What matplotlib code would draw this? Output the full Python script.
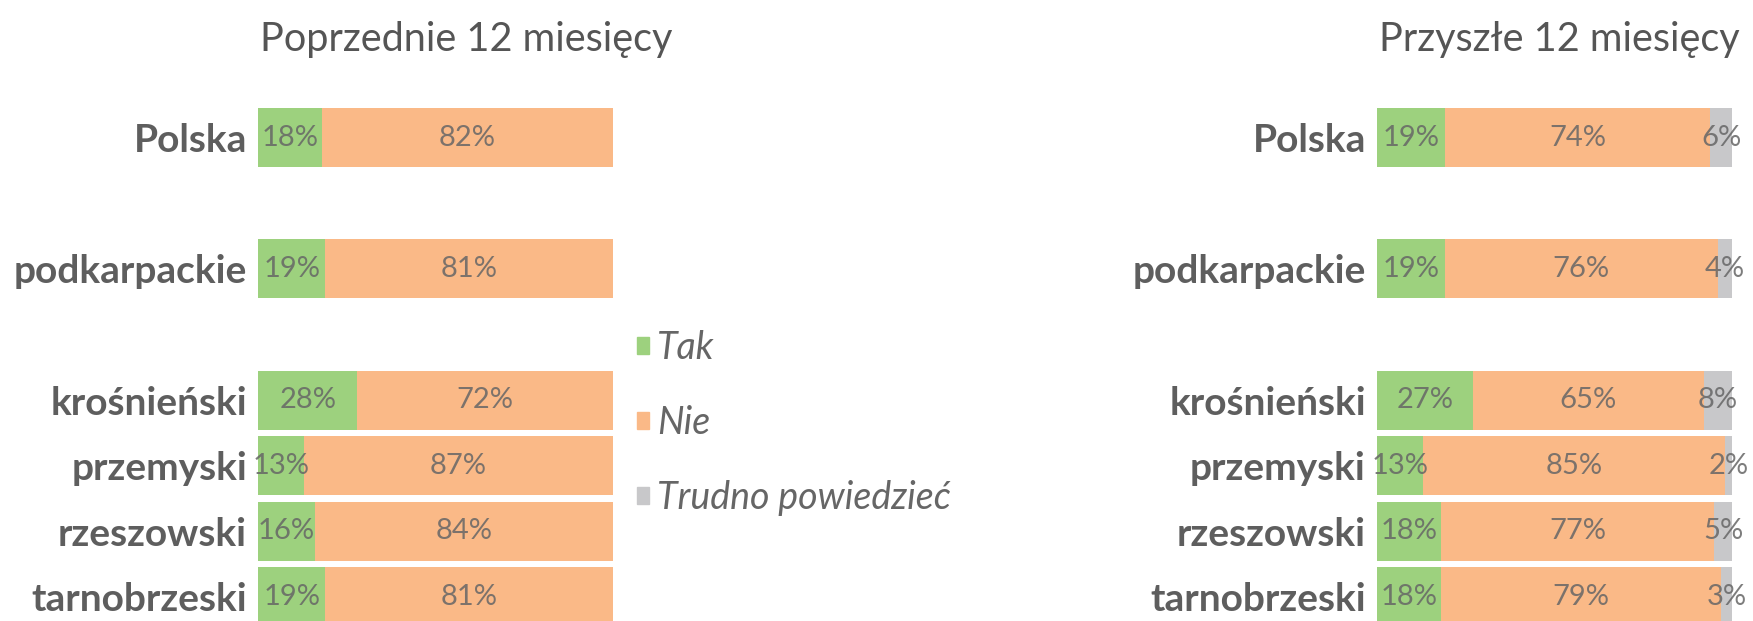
import matplotlib
matplotlib.use('Agg')
import matplotlib.pyplot as plt
from matplotlib.patches import Patch
import numpy as np

plt.rcParams['font.family'] = ['Lato', 'DejaVu Sans']

#%%
# data
regions = ['Polska', 'podkarpackie', 'krośnieński', 'przemyski', 'rzeszowski', 'tarnobrzeski']
ypos = [0, 2, 4, 5, 6, 7]

prev_tak = [18, 19, 28, 13, 16, 19]
prev_nie = [82, 81, 72, 87, 84, 81]

next_tak = [19, 19, 27, 13, 18, 18]
next_nie = [74, 76, 65, 85, 77, 79]
next_trudno = [6, 4, 8, 2, 5, 3]

titles = ['Poprzednie 12 miesięcy', 'Przyszłe 12 miesięcy']
legend_labels = ['Tak', 'Nie', 'Trudno powiedzieć']

c_tak = '#9DD17E'
c_nie = '#FAB987'
c_trudno = '#C8C8CA'
c_label = '#5E5E5E'
c_value = '#666666'

#%%
fig = plt.figure(figsize=(17.53, 6.21), dpi=100)
ax_l = fig.add_axes([0.1472, 0.0, 0.2025, 0.8314])
ax_r = fig.add_axes([0.7855, 0.0, 0.2025, 0.8314])


def draw_stack(ax, series, colors):
    # rows are rounded, stretch every row to full width like the original
    totals = np.sum(np.array(series, dtype=float), axis=0)
    left = np.zeros(len(ypos))
    for vals, col in zip(series, colors):
        vals = np.array(vals, dtype=float)
        widths = vals / totals * 100
        bars = ax.barh(ypos, widths, left=left, height=0.9, color=col, edgecolor='none')
        for b, v in zip(bars, vals):
            ax.text(b.get_x() + b.get_width() / 2, b.get_y() + b.get_height() / 2,
                    f'{int(v)}%', ha='center', va='center', fontsize=21,
                    color=c_value, alpha=0.85)
        left += widths
    ax.set_xlim(0, 100)
    ax.set_ylim(7.366, -0.5)
    ax.set_yticks(ypos)
    ax.set_yticklabels(regions, fontsize=28, fontweight='bold', color=c_label)
    ax.tick_params(axis='y', length=0, pad=8)
    ax.set_xticks([])
    for s in ax.spines.values():
        s.set_visible(False)


draw_stack(ax_l, [prev_tak, prev_nie], [c_tak, c_nie])
draw_stack(ax_r, [next_tak, next_nie, next_trudno], [c_tak, c_nie, c_trudno])

fig.text(0.1483, 0.937, titles[0], fontsize=28.5, color='#555555', va='center', ha='left')
fig.text(0.9925, 0.937, titles[1], fontsize=28.5, color='#555555', va='center', ha='right')

handles = [Patch(color=c) for c in [c_tak, c_nie, c_trudno]]
leg = fig.legend(handles, legend_labels, loc='center left', bbox_to_anchor=(0.3526, 0.3195),
                 frameon=False, borderpad=0, handlelength=0.33, handleheight=0.33,
                 handletextpad=0.2, labelspacing=1.04,
                 prop={'style': 'italic', 'size': 27})
for t in leg.get_texts():
    t.set_color('#666666')

plt.savefig('out.png', dpi=100)
